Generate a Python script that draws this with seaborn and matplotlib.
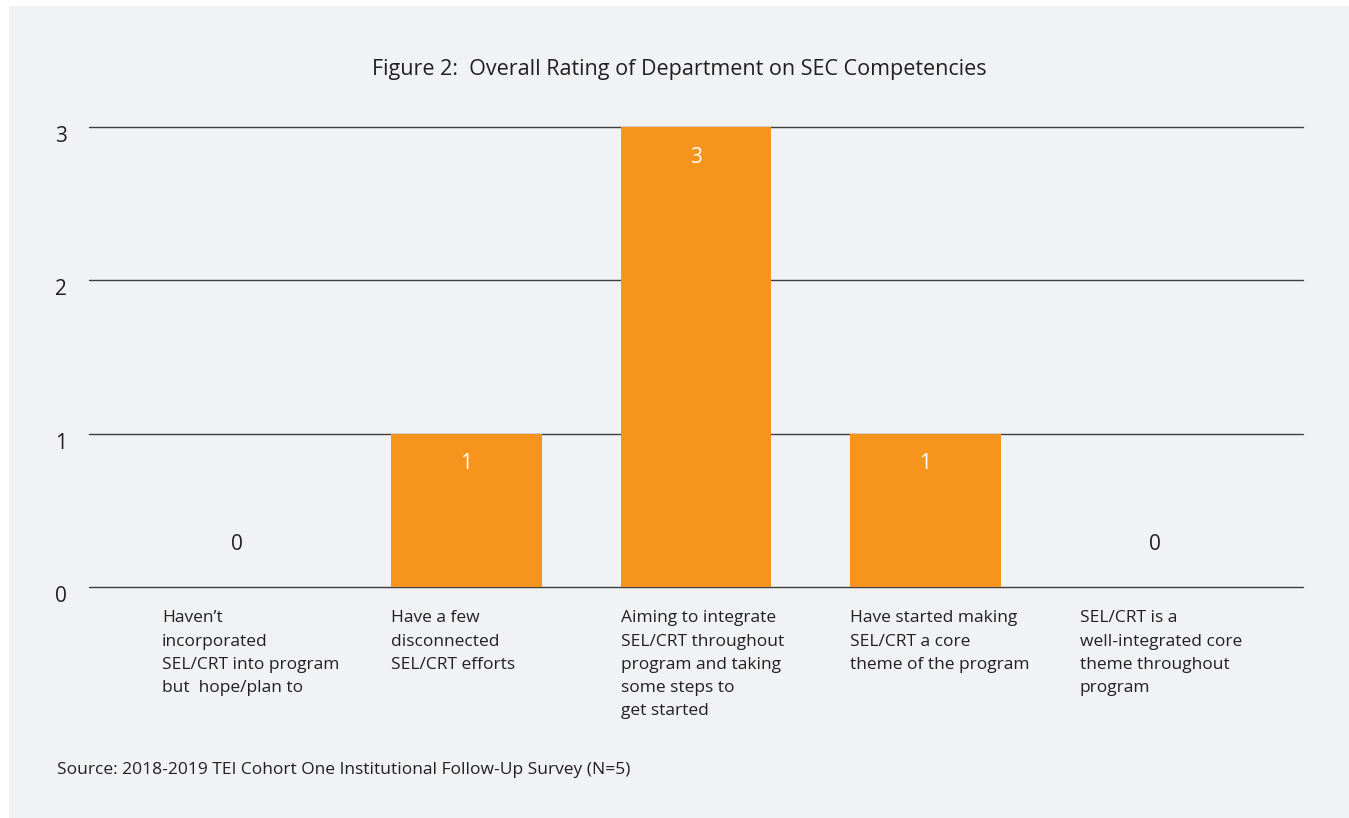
import matplotlib
matplotlib.use("Agg")
import matplotlib.pyplot as plt
import matplotlib.transforms as mtransforms
from matplotlib.patches import Rectangle
import pandas as pd
import seaborn as sns

categories = [
    "Haven\u2019t\nincorporated\nSEL/CRT into program\nbut  hope/plan to",
    "Have a few\ndisconnected\nSEL/CRT efforts",
    "Aiming to integrate\nSEL/CRT throughout\nprogram and taking\nsome steps to\nget started",
    "Have started making\nSEL/CRT a core\ntheme of the program",
    "SEL/CRT is a\nwell-integrated core\ntheme throughout\nprogram",
]
counts = [0, 1, 3, 1, 0]
y_ticks = [0, 1, 2, 3]
title = "Figure 2:  Overall Rating of Department on SEC Competencies"
source = "Source: 2018-2019 TEI Cohort One Institutional Follow-Up Survey (N=5)"

orange = '#F7941E'
panel = '#F1F2F4'
ink = '#231F20'
line_col = '#3F3F3F'
bar_w = 0.654

sns.set_style('white')
plt.rcParams['font.family'] = ['Open Sans', 'DejaVu Sans']

W, H = 1349, 818
fig = plt.figure(figsize=(W / 100, H / 100), dpi=100)
fig.patch.set_facecolor('white')
# grey panel behind everything
fig.patches.append(Rectangle((9 / W, 0), 1 - 9 / W, 812 / H, transform=fig.transFigure,
                             facecolor=panel, edgecolor='none', zorder=-5))

ax = fig.add_axes([89 / W, 1 - 587 / H, (1303 - 89) / W, (587 - 127) / H])
ax.set_facecolor('none')

df = pd.DataFrame({'rating': categories, 'n': counts})
sns.barplot(data=df, x='rating', y='n', order=categories, color=orange,
            saturation=1, width=bar_w, linewidth=0, ax=ax, zorder=3)

ax.set_xlim(-0.645, 4.645)
ax.set_ylim(0, 3)
ax.set_yticks(y_ticks)
ax.set_xlabel('')
ax.set_ylabel('')
for s in ax.spines.values():
    s.set_visible(False)
# horizontal rules, drawn unclipped so the 0 line is full strength
for yv in y_ticks:
    ax.axhline(yv, color=line_col, linewidth=1.0, zorder=1, clip_on=False)
ax.tick_params(axis='y', length=0, pad=16, labelsize=15, labelcolor=ink)
ax.tick_params(axis='x', length=0, labelbottom=False)

# y labels sit a bit below their lines
shift = mtransforms.ScaledTranslation(0, -0.07, fig.dpi_scale_trans)
for lab in ax.get_yticklabels():
    lab.set_transform(lab.get_transform() + shift)

# category labels, left aligned at bar's left edge
trans = mtransforms.blended_transform_factory(ax.transData, ax.transAxes)
lab_off = mtransforms.ScaledTranslation(0, -0.235, fig.dpi_scale_trans)
for i, cat in enumerate(categories):
    ax.text(i - bar_w / 2, 0, cat, transform=trans + lab_off, ha='left', va='top',
            fontsize=12.5, color=ink, linespacing=1.6)

# value labels
for i, v in enumerate(counts):
    if v > 0:
        ax.text(i, v - 0.196, str(v), ha='center', va='center', color='white', fontsize=15)
    else:
        ax.text(i, 0.28, str(v), ha='center', va='center', color=ink, fontsize=15)

fig.text(679 / W, 1 - 70 / H, title, ha='center', va='center', fontsize=15.5, color=ink)
fig.text(57 / W, 1 - 770 / H, source, ha='left', va='center', fontsize=12.5, color=ink)

fig.savefig('out.png', dpi=100, facecolor=fig.get_facecolor())
